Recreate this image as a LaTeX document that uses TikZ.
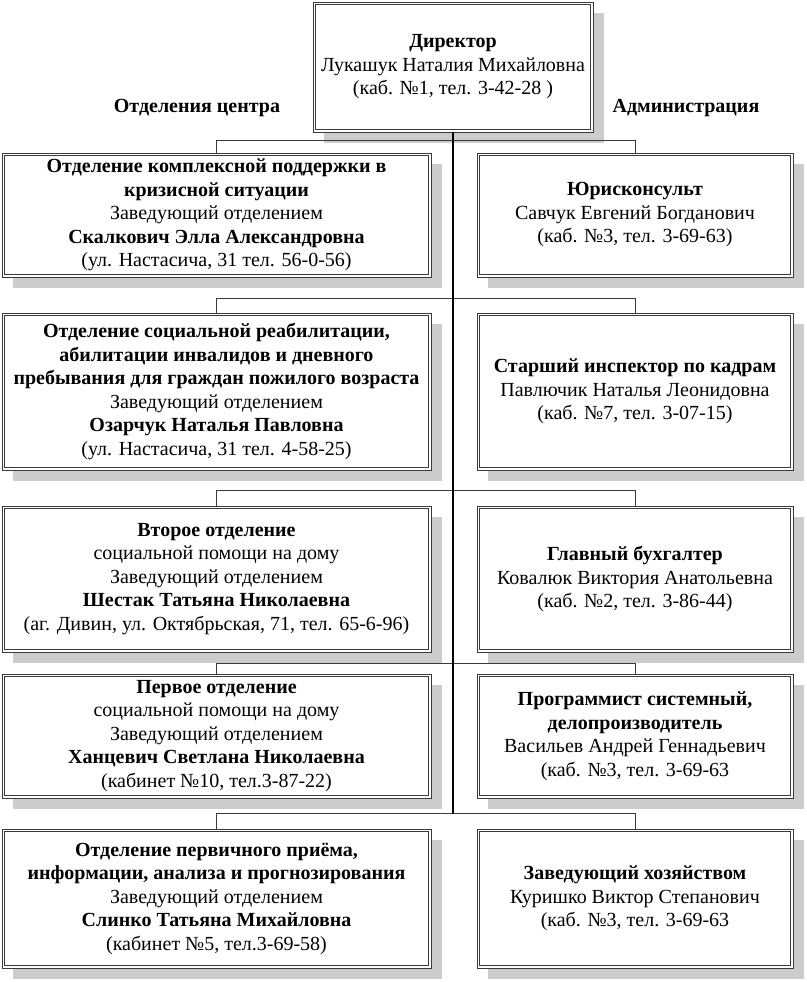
\documentclass[tikz,border=0pt]{standalone}
\usepackage{fontspec}
\setmainfont{Liberation Serif}
\usepackage{tikz}
\definecolor{cshadow}{HTML}{CCCCCC}
\definecolor{cline}{HTML}{3A3A3A}

\begin{document}
\begin{tikzpicture}[x=1pt, y=1pt,
  box/.style={draw=cline, line width=0.8pt, fill=white, align=center, inner sep=0pt,
    font=\fontsize{20}{23.5}\selectfont,
    preaction={fill=cshadow, draw=none, transform canvas={shift={(11pt,-11pt)}}},
    path picture={\draw[cline, line width=0.7pt]
      ([shift={(2.6pt,-2.6pt)}]path picture bounding box.north west) rectangle
      ([shift={(-2.6pt,2.6pt)}]path picture bounding box.south east);}},
  dept/.style={box, minimum width=429pt},
  post/.style={box, minimum width=316pt},
  head/.style={font=\fontsize{20}{23.5}\selectfont\bfseries, inner sep=0pt},
  trunk/.style={draw=black, line width=1.5pt},
  branch/.style={draw=cline, line width=1pt}]
  \useasboundingbox (0,0) rectangle (806,982);

  % Director
  \node[box, minimum width=280pt, minimum height=130pt] (dir) at (453,915)
    {\textbf{Директор}\\Лукашук Наталия Михайловна\\(каб. №1, тел. 3-42-28 )};

  \node[head] (lblDept) at (197,874) {Отделения центра};
  \node[head] (lblAdm) at (686,874) {Администрация};

  % Departments
  \node[dept, minimum height=124pt] (d1) at (216.5,767)
    {\textbf{Отделение комплексной поддержки в}\\\textbf{кризисной ситуации}\\Заведующий отделением\\\textbf{Скалкович Элла Александровна}\\(ул. Настасича, 31 тел. 56-0-56)};
  \node[dept, minimum height=157pt] (d2) at (216.5,590.5)
    {\textbf{Отделение социальной реабилитации,}\\\textbf{абилитации инвалидов и дневного}\\\textbf{пребывания для граждан пожилого возраста}\\Заведующий отделением\\\textbf{Озарчук Наталья Павловна}\\(ул. Настасича, 31 тел. 4-58-25)};
  \node[dept, minimum height=146pt] (d3) at (216.5,403)
    {\textbf{Второе отделение}\\социальной помощи на дому\\Заведующий отделением\\\textbf{Шестак Татьяна Николаевна}\\(аг. Дивин, ул. Октябрьская, 71, тел. 65-6-96)};
  \node[dept, minimum height=124pt] (d4) at (216.5,246)
    {\textbf{Первое отделение}\\социальной помощи на дому\\Заведующий отделением\\\textbf{Ханцевич Светлана Николаевна}\\(кабинет №10, тел.3-87-22)};
  \node[dept, minimum height=139pt] (d5) at (216.5,83.5)
    {\textbf{Отделение первичного приёма,}\\\textbf{информации, анализа и прогнозирования}\\Заведующий отделением\\\textbf{Слинко Татьяна Михайловна}\\(кабинет №5, тел.3-69-58)};

  % Administration
  \node[post, minimum height=124pt] (a1) at (635,767)
    {\textbf{Юрисконсульт}\\Савчук Евгений Богданович\\(каб. №3, тел. 3-69-63)};
  \node[post, minimum height=157pt] (a2) at (635,590.5)
    {\textbf{Старший инспектор по кадрам}\\Павлючик Наталья Леонидовна\\(каб. №7, тел. 3-07-15)};
  \node[post, minimum height=146pt] (a3) at (635,403)
    {\textbf{Главный бухгалтер}\\Ковалюк Виктория Анатольевна\\(каб. №2, тел. 3-86-44)};
  \node[post, minimum height=124pt] (a4) at (635,246)
    {\textbf{Программист системный,}\\\textbf{делопроизводитель}\\Васильев Андрей Геннадьевич\\(каб. №3, тел. 3-69-63};
  \node[post, minimum height=139pt] (a5) at (635,83.5)
    {\textbf{Заведующий хозяйством}\\Куришко Виктор Степанович\\(каб. №3, тел. 3-69-63};

  % Connectors
  \foreach \i/\h in {1/12,2/14,3/15,4/10,5/15}{
    \draw[branch] (d\i.north) -- ++(0,\h) -| (a\i.north);
  }
  \coordinate (trunkEnd) at (dir.south |- 0,168);
  \draw[trunk] (dir.south) -- (trunkEnd);
\end{tikzpicture}
\end{document}
